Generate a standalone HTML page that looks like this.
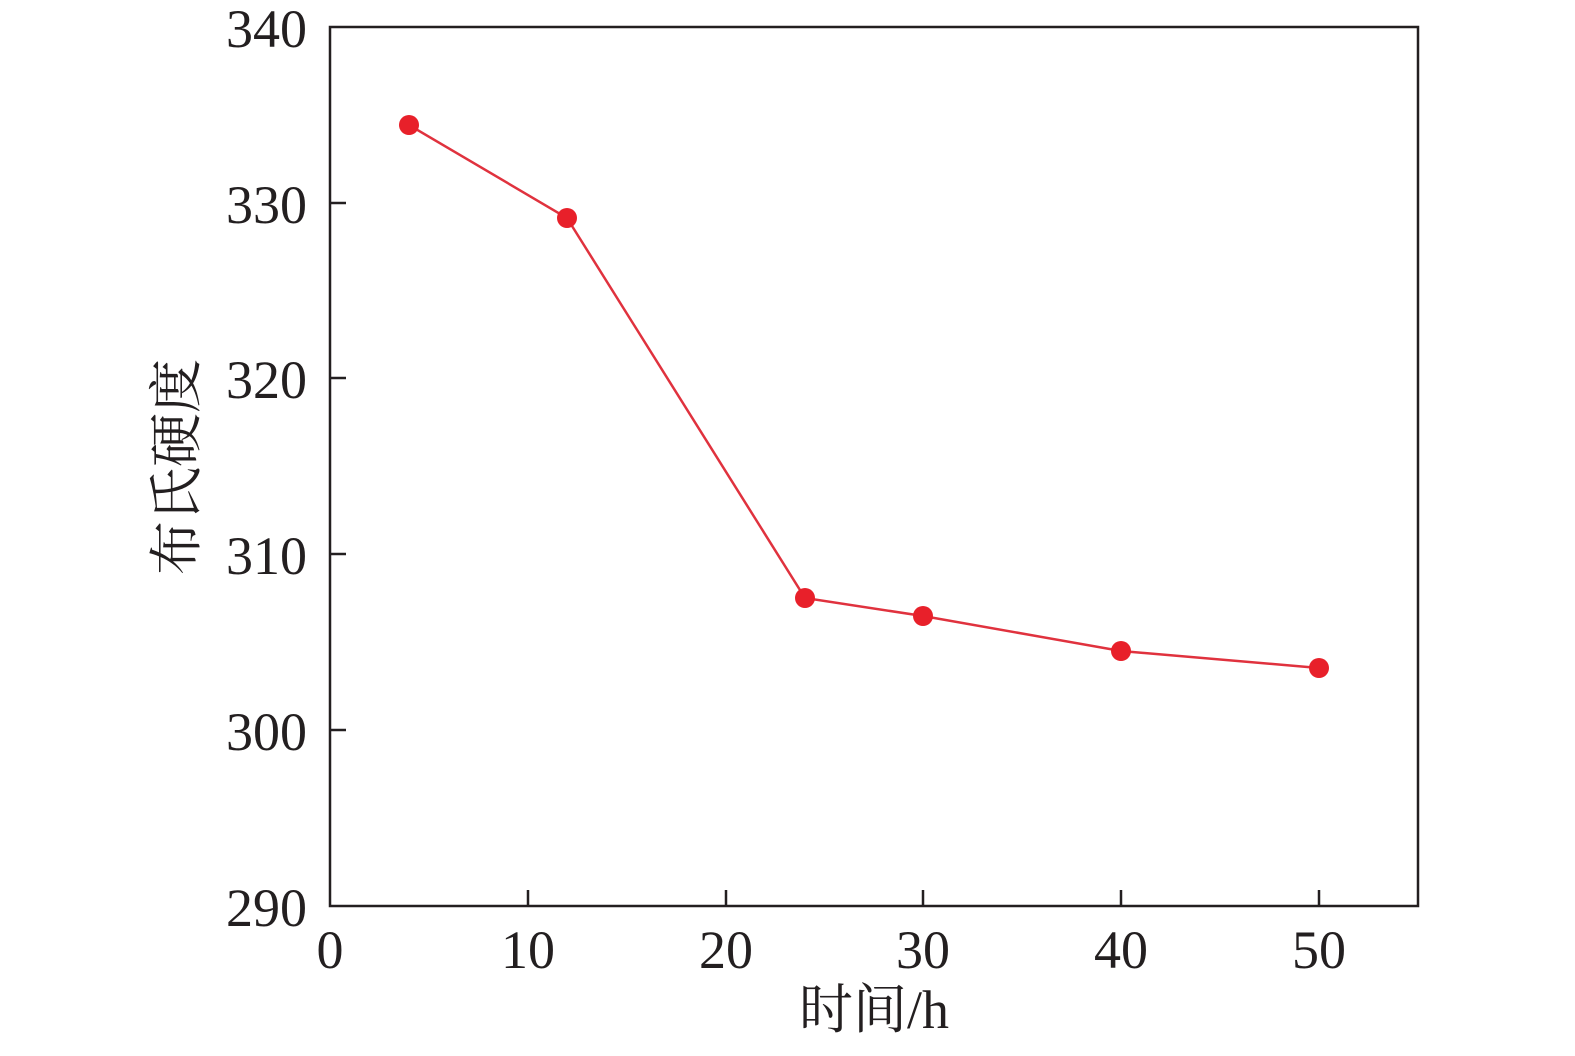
<!DOCTYPE html>
<html><head><style>body{margin:0;background:#fff}</style></head><body>
<svg width="1575" height="1051" xmlns="http://www.w3.org/2000/svg" font-family="'Liberation Serif','Noto Serif CJK SC',serif" fill="#231f20">
<rect x="330" y="27" width="1088" height="879" fill="none" stroke="#231f20" stroke-width="2.5"/>
<g stroke="#231f20" stroke-width="2.5">
<line x1="528" y1="906" x2="528" y2="890"/><line x1="726" y1="906" x2="726" y2="890"/><line x1="923" y1="906" x2="923" y2="890"/><line x1="1121" y1="906" x2="1121" y2="890"/><line x1="1319" y1="906" x2="1319" y2="890"/>
<line x1="330" y1="203" x2="346" y2="203"/><line x1="330" y1="378" x2="346" y2="378"/><line x1="330" y1="554" x2="346" y2="554"/><line x1="330" y1="730" x2="346" y2="730"/>
</g>
<g font-size="54" text-anchor="end">
<text x="307" y="47">340</text><text x="307" y="223">330</text><text x="307" y="398">320</text><text x="307" y="574">310</text><text x="307" y="750">300</text><text x="307" y="926">290</text>
</g>
<g font-size="54" text-anchor="middle">
<text x="330" y="968">0</text><text x="528" y="968">10</text><text x="726" y="968">20</text><text x="923" y="968">30</text><text x="1121" y="968">40</text><text x="1319" y="968">50</text>
</g>
<text x="874" y="1028" font-size="54" text-anchor="middle">时间/h</text>
<text transform="translate(195,467) rotate(-90)" font-size="54" text-anchor="middle">布氏硬度</text>
<polyline points="409,125 567,218 805,598 923,616 1121,651 1319,668" fill="none" stroke="#e0323e" stroke-width="2.5"/>
<g fill="#e8202a">
<circle cx="409" cy="125" r="10"/><circle cx="567" cy="218" r="10"/><circle cx="805" cy="598" r="10"/><circle cx="923" cy="616" r="10"/><circle cx="1121" cy="651" r="10"/><circle cx="1319" cy="668" r="10"/>
</g>
</svg>
</body></html>
